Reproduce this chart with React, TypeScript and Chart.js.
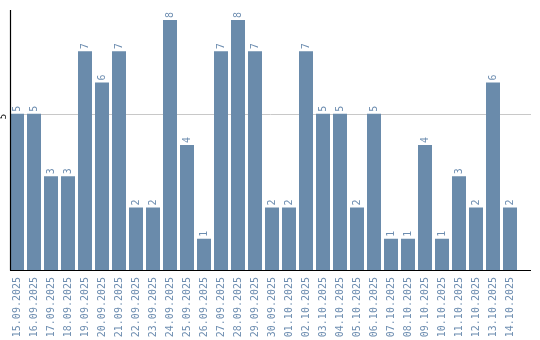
import React, { useEffect, useRef } from "react";
import { Chart, registerables } from "chart.js";

Chart.register(...registerables);

const categories = [
  "15.09.2025", "16.09.2025", "17.09.2025", "18.09.2025", "19.09.2025",
  "20.09.2025", "21.09.2025", "22.09.2025", "23.09.2025", "24.09.2025",
  "25.09.2025", "26.09.2025", "27.09.2025", "28.09.2025", "29.09.2025",
  "30.09.2025", "01.10.2025", "02.10.2025", "03.10.2025", "04.10.2025",
  "05.10.2025", "06.10.2025", "07.10.2025", "08.10.2025", "09.10.2025",
  "10.10.2025", "11.10.2025", "12.10.2025", "13.10.2025", "14.10.2025",
];
const values = [5, 5, 3, 3, 7, 6, 7, 2, 2, 8, 4, 1, 7, 8, 7, 2, 2, 7, 5, 5, 2, 5, 1, 1, 4, 1, 3, 2, 6, 2];
const yTicks = [5];
const yMax = 8.32;

const BAR = "#6a8bab";
const TEXT = "#6d8db0";
const FONT = "'DejaVu Sans Mono', monospace";

const decorPlugin = {
  id: "decor",
  beforeDatasetsDraw(chart: any) {
    const { ctx, scales } = chart;
    const y = scales.y;
    const axisX = 10;
    const rightX = 531;
    ctx.save();
    ctx.strokeStyle = "#c8c8c8";
    ctx.lineWidth = 1;
    for (const t of yTicks) {
      const py = Math.round(y.getPixelForValue(t)) + 0.5;
      ctx.beginPath();
      ctx.moveTo(axisX, py);
      ctx.lineTo(rightX, py);
      ctx.stroke();
    }
    ctx.restore();
  },
  afterDatasetsDraw(chart: any) {
    const { ctx, scales } = chart;
    const y = scales.y;
    const axisX = 10.5;
    const rightX = 531;
    ctx.save();
    ctx.strokeStyle = "#000";
    ctx.lineWidth = 1.2;
    const bottom = Math.round(y.getPixelForValue(0)) + 0.5;
    const top = y.getPixelForValue(yMax);
    ctx.beginPath();
    ctx.moveTo(axisX, top);
    ctx.lineTo(axisX, bottom);
    ctx.stroke();
    ctx.beginPath();
    ctx.moveTo(10, bottom);
    ctx.lineTo(rightX, bottom);
    ctx.stroke();

    ctx.fillStyle = "#000";
    ctx.font = `9px ${FONT}`;
    for (const t of yTicks) {
      const py = y.getPixelForValue(t);
      ctx.save();
      ctx.translate(4, py);
      ctx.rotate(-Math.PI / 2);
      ctx.textAlign = "right";
      ctx.textBaseline = "middle";
      ctx.fillText(String(t), 0, 0);
      ctx.restore();
    }

    const meta = chart.getDatasetMeta(0);
    ctx.fillStyle = TEXT;
    ctx.font = `10px ${FONT}`;
    meta.data.forEach((bar: any, i: number) => {
      ctx.save();
      ctx.translate(bar.x, bar.y - 2);
      ctx.rotate(-Math.PI / 2);
      ctx.textAlign = "left";
      ctx.textBaseline = "middle";
      ctx.fillText(String(values[i]), 0, 0);
      ctx.restore();
    });
    ctx.restore();
  },
};

export default function App() {
  const ref = useRef<HTMLCanvasElement>(null);
  useEffect(() => {
    if (!ref.current) return;
    const chart = new Chart(ref.current, {
      type: "bar",
      data: {
        labels: categories,
        datasets: [
          {
            data: values,
            backgroundColor: BAR,
            borderWidth: 0,
            categoryPercentage: 1,
            barPercentage: 14 / 17,
          },
        ],
      },
      options: {
        responsive: false,
        animation: false,
        layout: { padding: { left: 8.5, top: 10, right: 21.5, bottom: 0 } },
        plugins: { legend: { display: false }, tooltip: { enabled: false } },
        scales: {
          x: {
            grid: { display: false, drawTicks: false },
            border: { display: false },
            ticks: {
              color: TEXT,
              font: { family: FONT, size: 10 },
              minRotation: 90,
              maxRotation: 90,
              padding: 7,
              autoSkip: false,
            },
            afterFit(scale: any) {
              scale.height = 70;
            },
          },
          y: {
            display: false,
            min: 0,
            max: yMax,
          },
        },
      },
      plugins: [decorPlugin],
    });
    return () => chart.destroy();
  }, []);
  return (
    <div style={{ position: "absolute", left: 0, top: 0, width: 540, height: 340 }}>
      <canvas ref={ref} width={540} height={340} />
    </div>
  );
}
